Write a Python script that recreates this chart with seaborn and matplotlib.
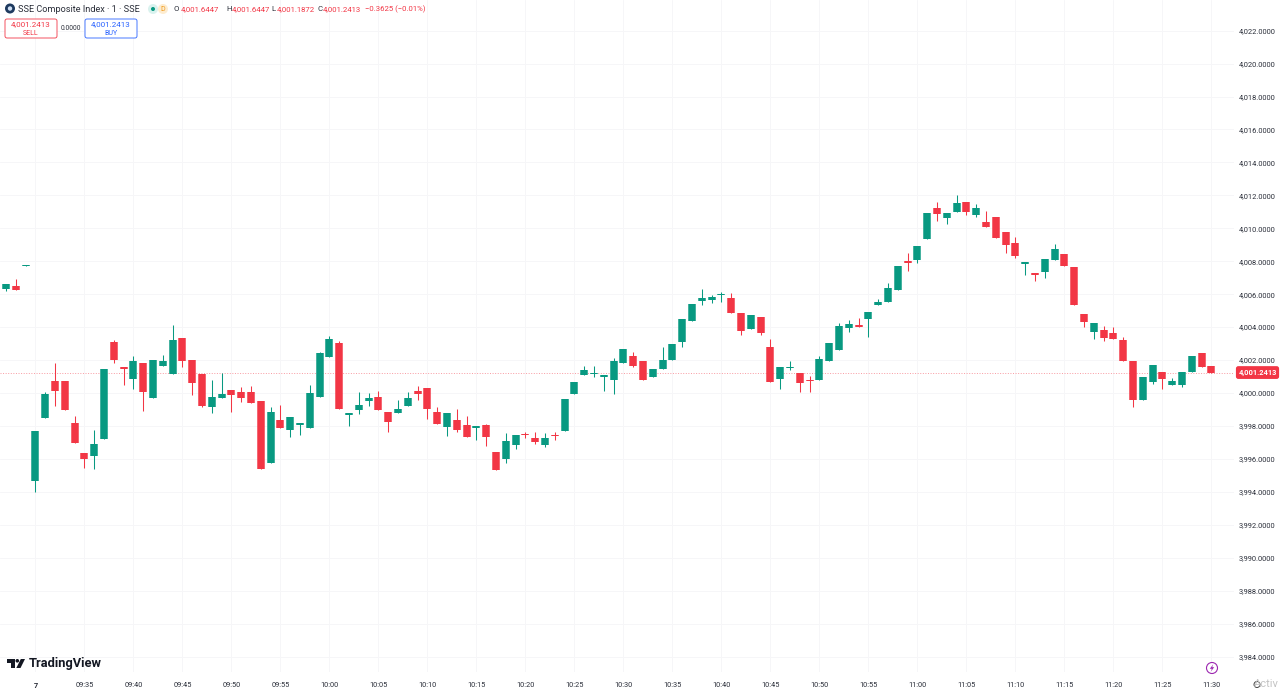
import seaborn as sns
import matplotlib.pyplot as plt
import numpy as np
import pandas as pd
from matplotlib.patches import Circle, FancyBboxPatch, Polygon

# one-minute bars, the first three belong to the previous session
opens = [4006.30, 4006.52, 4007.74,
         3994.66, 3998.50, 4000.71, 4000.71, 3998.20, 3996.34, 3996.19, 3997.19, 4003.08, 4001.56,
         4000.87, 4001.80, 3999.71, 4001.64, 4001.14, 4003.32, 4001.98, 4001.15, 3999.15, 3999.71,
         4000.16, 4000.04, 4000.08, 3999.50, 3995.73, 3998.36, 3997.77, 3998.04, 3997.89, 3999.78,
         4002.20, 4003.04, 3998.68, 3998.95, 3999.50, 3999.76, 3998.85, 3998.79, 3999.19, 4000.12,
         4000.30, 3998.83, 3997.95, 3998.38, 3998.04, 3997.86, 3998.04, 3996.44, 3995.99, 3996.83,
         3997.49, 3997.25, 3996.83, 3997.47, 3997.71, 3999.96, 4001.11, 4001.15, 4000.95, 4000.81,
         4001.82, 4002.26, 4001.96, 4000.95, 4001.46, 4002.00, 4003.10, 4004.37, 4005.58, 4005.66,
         4005.97, 4005.75, 4004.84, 4003.87, 4004.61, 4002.77, 4000.87, 4001.56, 4001.20, 4000.77,
         4000.77, 4001.94, 4002.61, 4003.95, 4004.13, 4004.47, 4005.34, 4005.51, 4006.27, 4008.03,
         4008.09, 4009.37, 4011.25, 4010.62, 4010.97, 4011.60, 4010.82, 4010.38, 4010.66, 4009.77,
         4009.09, 4007.81, 4007.27, 4007.33, 4008.05, 4008.44, 4007.67, 4004.78, 4003.72, 4003.81,
         4003.66, 4003.22, 4001.94, 3999.58, 4000.69, 4001.26, 4000.50, 4000.50, 4001.27, 4002.45,
         4001.6447]
highs = [4006.62, 4006.90, 4007.77,
         3997.71, 4000.04, 4001.84, 4000.71, 3998.60, 3996.34, 3997.75, 4001.44, 4003.20, 4001.56,
         4002.25, 4001.80, 4002.02, 4002.29, 4004.15, 4003.32, 4001.98, 4001.15, 4000.79, 4001.20,
         4000.16, 4000.35, 4000.42, 3999.50, 3999.13, 3999.29, 3998.56, 3998.16, 4000.50, 4002.49,
         4003.46, 4003.17, 3998.80, 4000.06, 3999.98, 4000.10, 3998.85, 3999.58, 4000.06, 4000.42,
         4000.30, 3999.17, 3998.80, 3999.01, 3998.60, 3998.02, 3998.14, 3996.44, 3997.55, 3997.43,
         3997.63, 3997.61, 3997.59, 3997.65, 3999.62, 4000.67, 4001.64, 4001.64, 4001.07, 4002.11,
         4002.67, 4002.49, 4001.96, 4001.44, 4002.81, 4002.97, 4004.47, 4005.40, 4006.33, 4005.97,
         4006.11, 4006.05, 4004.84, 4004.75, 4004.61, 4003.26, 4001.58, 4001.92, 4001.20, 4001.03,
         4002.25, 4003.02, 4004.23, 4004.43, 4004.55, 4004.90, 4005.71, 4006.66, 4007.71, 4008.48,
         4008.94, 4010.91, 4011.58, 4010.93, 4012.00, 4011.60, 4011.47, 4011.03, 4010.66, 4009.77,
         4009.45, 4007.95, 4007.27, 4008.13, 4009.05, 4008.44, 4007.67, 4004.78, 4004.23, 4004.07,
         4004.02, 4003.42, 4001.94, 4000.97, 4001.70, 4001.26, 4000.89, 4001.29, 4002.26, 4002.45,
         4001.6447]
lows = [4006.21, 4006.27, 4007.74,
        3993.97, 3998.50, 3999.21, 3998.95, 3996.98, 3995.45, 3995.37, 3997.19, 4001.80, 4000.47,
        4000.26, 3998.89, 3999.71, 4001.64, 4001.14, 4001.56, 3999.90, 3999.13, 3998.80, 3999.71,
        3998.85, 3999.45, 3999.39, 3995.40, 3995.73, 3997.89, 3997.31, 3997.43, 3997.89, 3999.78,
        4002.20, 3999.05, 3998.00, 3998.73, 3999.21, 3998.97, 3997.65, 3998.79, 3999.19, 3999.58,
        3998.44, 3998.14, 3997.39, 3997.63, 3997.31, 3997.15, 3996.78, 3995.34, 3995.77, 3996.58,
        3997.29, 3996.89, 3996.70, 3997.15, 3997.71, 3999.96, 4001.11, 4000.97, 4000.14, 3999.94,
        4001.82, 4001.56, 4000.77, 4000.95, 4001.46, 4002.00, 4002.77, 4004.37, 4005.32, 4005.48,
        4005.52, 4004.87, 4003.50, 4003.87, 4003.50, 4000.69, 4000.22, 4001.40, 4000.06, 4000.06,
        4000.77, 4001.94, 4002.61, 4003.68, 4003.99, 4003.38, 4005.34, 4005.51, 4006.27, 4007.41,
        4007.87, 4009.37, 4010.46, 4010.28, 4010.97, 4010.79, 4010.66, 4010.09, 4009.43, 4008.48,
        4008.21, 4007.18, 4006.78, 4006.96, 4008.05, 4007.69, 4005.32, 4003.99, 4003.30, 4003.14,
        4003.28, 4001.96, 3999.17, 3999.58, 4000.56, 4000.26, 4000.50, 4000.35, 4001.27, 4001.58,
        4001.1872]
closes = [4006.62, 4006.27, 4007.77,
          3997.71, 3999.96, 4000.10, 3998.95, 3996.98, 3996.01, 3996.90, 4001.44, 4002.00, 4001.47,
          4001.94, 4000.08, 4002.02, 4001.94, 4003.20, 4001.94, 4000.63, 3999.23, 3999.74, 3999.92,
          3999.90, 3999.71, 3999.39, 3995.40, 3998.85, 3997.89, 3998.56, 3998.16, 4000.02, 4002.41,
          4003.26, 3999.05, 3998.80, 3999.29, 3999.68, 3998.97, 3998.22, 3999.03, 3999.70, 3999.96,
          3999.03, 3998.14, 3998.80, 3997.77, 3997.31, 3998.02, 3997.31, 3995.34, 3997.07, 3997.43,
          3997.45, 3997.04, 3997.27, 3997.39, 3999.62, 4000.67, 4001.40, 4001.17, 4001.07, 4001.96,
          4002.67, 4001.66, 4000.77, 4001.44, 4002.02, 4002.97, 4004.47, 4005.40, 4005.78, 4005.83,
          4005.99, 4004.87, 4003.78, 4004.75, 4003.64, 4000.69, 4001.58, 4001.58, 4000.59, 4000.75,
          4002.06, 4003.02, 4004.07, 4004.19, 4003.99, 4004.90, 4005.51, 4006.36, 4007.71, 4007.91,
          4008.94, 4010.91, 4010.88, 4010.93, 4011.55, 4011.01, 4011.23, 4010.09, 4009.43, 4009.00,
          4008.33, 4007.95, 4007.14, 4008.13, 4008.76, 4007.69, 4005.32, 4004.29, 4004.23, 4003.32,
          4003.28, 4001.96, 3999.56, 4000.97, 4001.70, 4000.85, 4000.71, 4001.29, 4002.26, 4001.58,
          4001.2413]

minutes = list(range(-3, 121))
time_labels = ['7', '09:35', '09:40', '09:45', '09:50', '09:55', '10:00', '10:05', '10:10',
               '10:15', '10:20', '10:25', '10:30', '10:35', '10:40', '10:45', '10:50', '10:55',
               '11:00', '11:05', '11:10', '11:15', '11:20', '11:25', '11:30']
price_ticks = list(range(3984, 4024, 2))
last_price = 4001.2413

GREEN = '#089981'
RED = '#F23645'
BLUE = '#2962FF'
TEXT = '#2a2e39'
MIN_BODY = 0.06  # about one pixel, so a doji still shows its bar

sns.set_theme(style='white')
plt.rcParams['font.family'] = ['Roboto', 'DejaVu Sans']

df = pd.DataFrame({'minute': minutes, 'open': opens, 'high': highs, 'low': lows, 'close': closes})
df['direction'] = np.where(df['close'] >= df['open'], 'up', 'down')
palette = {'up': GREEN, 'down': RED}

# thin bodies are stretched around their middle when drawn
mid = (df['open'] + df['close']) / 2
half = np.maximum((df['close'] - df['open']).abs(), MIN_BODY) / 2
df['body_top'] = mid + half
df['body_bottom'] = mid - half

fig = plt.figure(figsize=(12.8, 6.94), dpi=100)
ax = fig.add_axes([0, 22 / 694, 1234 / 1280, 672 / 694])

# wicks and bodies are vertical segments, two rows per candle
wicks = df.melt(id_vars=['minute', 'direction'], value_vars=['high', 'low'], value_name='price')
bodies = df.melt(id_vars=['minute', 'direction'], value_vars=['body_top', 'body_bottom'], value_name='price')
sns.lineplot(data=wicks, x='minute', y='price', units='minute', hue='direction', palette=palette,
             estimator=None, sort=False, legend=False, linewidth=0.75, solid_capstyle='butt', ax=ax)
sns.lineplot(data=bodies, x='minute', y='price', units='minute', hue='direction', palette=palette,
             estimator=None, sort=False, legend=False, linewidth=5.4, solid_capstyle='butt', ax=ax)

ax.axhline(last_price, color=RED, linewidth=0.7, linestyle=':', alpha=0.5, zorder=1)

ax.set_xlim(-3.62, 122.3)
ax.set_ylim(3983.06, 4023.86)
ax.set_xlabel('')
ax.set_ylabel('')
sns.despine(ax=ax, left=True, bottom=True)
ax.set_xticks(range(0, 125, 5))
ax.set_xticklabels(time_labels)
ax.yaxis.tick_right()
ax.set_yticks(price_ticks)
ax.set_yticklabels([f'{p:,.4f}' for p in price_ticks])
ax.tick_params(axis='y', length=0, pad=3.6, labelsize=5.4, labelcolor=TEXT)
ax.tick_params(axis='x', length=0, pad=7, labelsize=5.3, labelcolor=TEXT)
ax.get_xticklabels()[0].set_fontweight('bold')
ax.grid(True, color='#f6f6f8', linewidth=0.7)
ax.set_axisbelow(True)

# last price tag on the scale
ax.text(1.0035, last_price, f'{last_price:,.4f}', transform=ax.get_yaxis_transform(),
        ha='left', va='center', fontsize=5.4, fontweight='bold', color='white', clip_on=False,
        bbox=dict(boxstyle='round,pad=0.32', fc=RED, ec='none'))

# everything around the chart is laid out in screen pixels
over = fig.add_axes([0, 0, 1, 1], zorder=5)
over.set_xlim(0, 1280)
over.set_ylim(694, 0)
over.axis('off')

over.add_patch(Circle((10, 8.5), 5, fc='#1e3a5f', ec='none'))
over.add_patch(Circle((10, 8.5), 2.2, fc='#cfe0f5', ec='none'))
over.text(18, 9, 'SSE Composite Index · 1 · SSE', fontsize=6.6, color=TEXT, va='center')
over.add_patch(Circle((153, 9), 5, fc='#d9f2ee', ec='none'))
over.add_patch(Circle((153, 9), 2, fc=GREEN, ec='none'))
over.add_patch(Circle((163, 9), 5, fc='#fdecd0', ec='none'))
over.text(163, 9, 'D', fontsize=5, color='#f09a1a', va='center', ha='center')

for letter, lx, value, vx in [('O', 174, '4,001.6447', 181), ('H', 226, '4,001.6447', 231.5),
                              ('L', 271, '4,001.1872', 277), ('C', 318, '4,001.2413', 323)]:
    over.text(lx, 9, letter, fontsize=5.6, color=TEXT, va='center')
    over.text(vx, 9, value, fontsize=5.6, color=RED, va='center')
over.text(365, 9, '−0.3625 (−0.01%)', fontsize=5.6, color=RED, va='center')

for bx, color, side in [(5, RED, 'SELL'), (85, BLUE, 'BUY')]:
    over.add_patch(FancyBboxPatch((bx + 2, 21), 48, 15, boxstyle='round,pad=2', fc='white',
                                  ec=color, linewidth=0.6))
    over.text(bx + 26, 24.5, '4,001.2413', fontsize=5.8, color=color, ha='center', va='center')
    over.text(bx + 26, 33, side, fontsize=5, color=color, ha='center', va='center')
over.text(71, 28, '0.0000', fontsize=4.8, color=TEXT, ha='center', va='center')

# TradingView mark
over.add_patch(Polygon([(7, 659), (14.5, 659), (14.5, 668), (10.5, 668), (10.5, 662.5), (7, 662.5)],
                       fc='#131722', ec='none'))
over.add_patch(Circle((17.3, 660.8), 1.8, fc='#131722', ec='none'))
over.add_patch(Polygon([(20.8, 659), (25, 659), (20.5, 668), (16.3, 668)], fc='#131722', ec='none'))
over.text(29, 663.5, 'TradingView', fontsize=9.3, fontweight='bold', color='#131722', va='center')

# flash badge above the last time label
over.add_patch(Circle((1212, 668), 5.5, fc='white', ec='#9c27b0', linewidth=0.8))
over.add_patch(Polygon([(1213.2, 664.3), (1209.8, 668.8), (1211.8, 668.8), (1210.8, 671.7),
                        (1214.2, 667.2), (1212.2, 667.2)], fc='#9c27b0', ec='none'))
over.text(1254, 684, 'Activ', fontsize=8, color='#c4c4c4', va='center', clip_on=True)
over.add_patch(Circle((1257, 684.5), 3, fc='white', ec='#444444', linewidth=0.7))

fig.savefig('out.png', dpi=100)
